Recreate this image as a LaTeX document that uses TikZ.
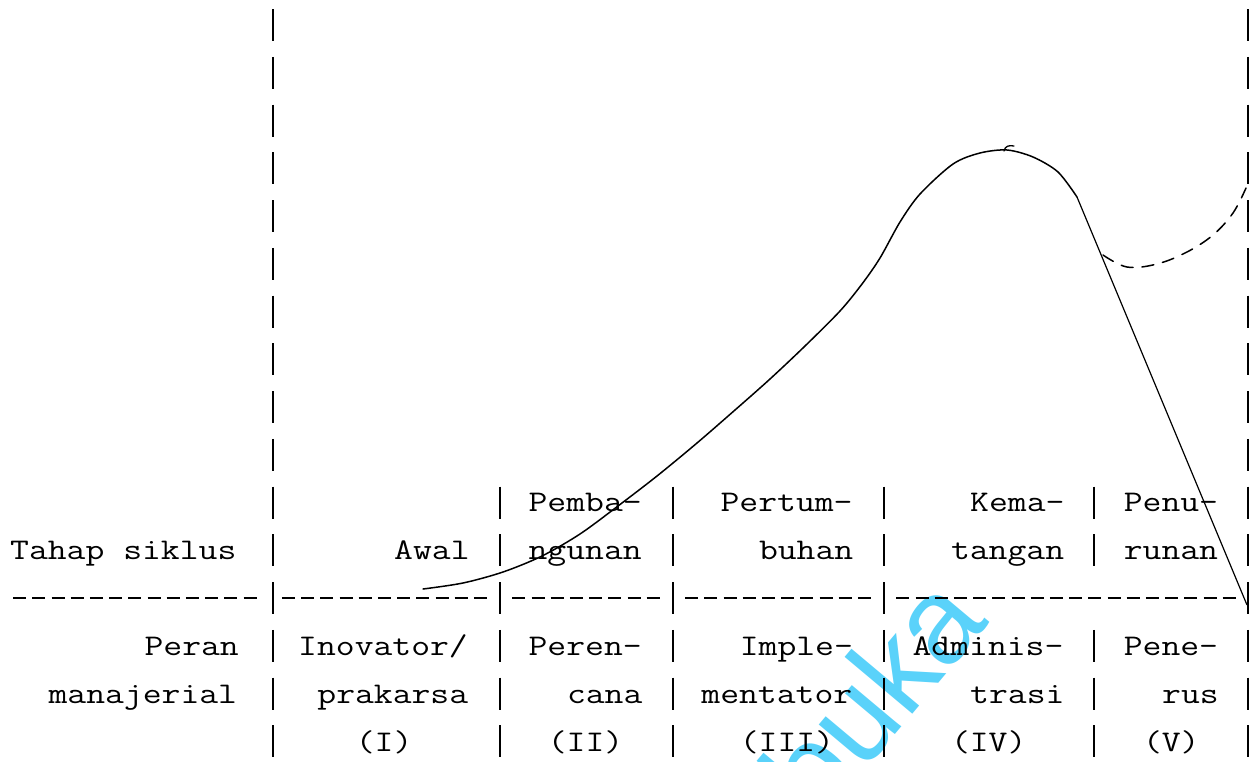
\documentclass[tikz,border=0pt]{standalone}
\usepackage{graphicx}
\usepackage{fontspec}
\newfontfamily\wmfont{Liberation Sans}
\definecolor{wm}{RGB}{90,210,250}
% typewriter text, widened to a 19.2pt character pitch
\newcommand\tyw[1]{\scalebox{1.22}[1]{\ttfamily\fontsize{30}{30}\selectfont #1}}
\begin{document}
\begin{tikzpicture}[x=1pt,y=-1pt,
  bar/.style={line width=1.8pt},
  hy/.style={line width=2.2pt},
  tw/.style={inner sep=0pt, anchor=base west},
  curve/.style={line width=1.5pt, line cap=round, line join=round}]
\useasboundingbox (0,0) rectangle (1250,761);

% watermark
\begin{scope}
  \clip (0,0) rectangle (1250,761);
  \node[rotate=50, anchor=base east, inner sep=0pt, text=wm,
        font=\wmfont\fontsize{122}{122}\selectfont] (wmark) at (990,622) {buka};
\end{scope}

% vertical typewriter bars, one per line of type
\foreach \k in {0,...,15}{
  \draw[bar] (273,{25+47.75*\k-16}) -- (273,{25+47.75*\k+16});
  \draw[bar] (1248,{25+47.75*\k-16}) -- (1248,{25+47.75*\k+16});
}
\foreach \k in {10,...,15}{
  \draw[bar] (500,{25+47.75*\k-16}) -- (500,{25+47.75*\k+16});
  \draw[bar] (673,{25+47.75*\k-16}) -- (673,{25+47.75*\k+16});
  \draw[bar] (884,{25+47.75*\k-16}) -- (884,{25+47.75*\k+16});
}
\foreach \k in {10,11,13,14,15}{
  \draw[bar] (1094,{25+47.75*\k-16}) -- (1094,{25+47.75*\k+16});
}

% dashed rule of hyphens
\foreach \n in {0,...,12,14,15,...,24,26,27,...,33,35,36,...,44,46,47,...,63}{
  \draw[hy] ({10+19.2*\n+3.1},598) -- ({10+19.2*\n+16.1},598);
}

% first row of stage names
\node[tw] (pemba)  at (528.4,511) {\tyw{Pemba-}};
\node[tw] (pertum) at (720.4,511) {\tyw{Pertum-}};
\node[tw] (kema)   at (970,511)   {\tyw{Kema-}};
\node[tw] (penu)   at (1123.6,511) {\tyw{Penu-}};
% second row
\node[tw] (tahap)  at (10,559)    {\tyw{Tahap siklus}};
\node[tw] (awal)   at (394,559)   {\tyw{Awal}};
\node[tw] (ngunan) at (528.4,559) {\tyw{ngunan}};
\node[tw] (buhan)  at (758.8,559) {\tyw{buhan}};
\node[tw] (tangan) at (950.8,559) {\tyw{tangan}};
\node[tw] (runan)  at (1123.6,559) {\tyw{runan}};
% managerial roles
\node[tw] (peran)  at (144.4,655) {\tyw{Peran}};
\node[tw] (inov)   at (298,655)   {\tyw{Inovator/}};
\node[tw] (peren)  at (528.4,655) {\tyw{Peren-}};
\node[tw] (imple)  at (739.6,655) {\tyw{Imple-}};
\node[tw] (admin)  at (912.4,655) {\tyw{Adminis-}};
\node[tw] (pene)   at (1123.6,655) {\tyw{Pene-}};
\node[tw] (manaj)  at (48.4,703)  {\tyw{manajerial}};
\node[tw] (prak)   at (317.2,703) {\tyw{prakarsa}};
\node[tw] (cana)   at (566.8,703) {\tyw{cana}};
\node[tw] (ment)   at (701.2,703) {\tyw{mentator}};
\node[tw] (trasi)  at (970,703)   {\tyw{trasi}};
\node[tw] (rus)    at (1162,703)  {\tyw{rus}};
\node[tw] (r1)     at (355.6,751) {\tyw{(I)}};
\node[tw] (r2)     at (547.6,751) {\tyw{(II)}};
\node[tw] (r3)     at (739.6,751) {\tyw{(III)}};
\node[tw] (r4)     at (950.8,751) {\tyw{(IV)}};
\node[tw] (r5)     at (1142.8,751) {\tyw{(V)}};

% life-cycle curve
\draw[curve] plot[smooth, tension=0.5] coordinates {
  (423,589) (463,583) (503,572) (542,556) (580,534) (618,506) (657,476)
  (697,443) (735,410) (770,379) (805,346) (840,311) (862,284) (880,258)
  (900,222) (920,194) (953,164) (980,153) (1007,150) (1033,157) (1058,172)
  (1077,197)};
\draw[line width=1.2pt] (1077,197) -- (1247,605);
\draw[line width=1.3pt, line cap=round] (1004,151) .. controls (1005,146) and (1009,145) .. (1014,146);
% renewal branch
\draw[curve, dash pattern=on 12pt off 9pt] plot[smooth, tension=0.6] coordinates {
  (1103,255) (1127,267) (1157,264) (1187,252) (1213,235) (1233,213) (1246,188)};
\end{tikzpicture}
\end{document}
